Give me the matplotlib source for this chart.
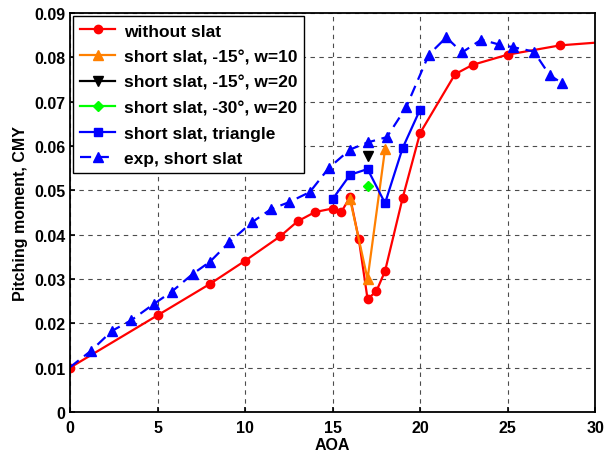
import matplotlib
matplotlib.use('Agg')
import matplotlib.pyplot as plt

plt.rcParams['font.family'] = ['Liberation Sans', 'DejaVu Sans']
plt.rcParams['font.weight'] = 'bold'

# without slat
aoa_noslat = [0, 5, 8, 10, 12, 13, 14, 15, 15.5, 16, 16.5, 17, 17.5, 18, 19, 20, 22, 23, 25, 28, 30]
cmy_noslat = [0.0100, 0.0218, 0.0289, 0.0341, 0.0396, 0.0430, 0.0451, 0.0459, 0.0451, 0.0485,
              0.0390, 0.0255, 0.0272, 0.0318, 0.0482, 0.0629, 0.0762, 0.0783, 0.0806, 0.0827, 0.0833]

# short slat, -15 deg, w=10
aoa_s15w10 = [16, 17, 18]
cmy_s15w10 = [0.0480, 0.0300, 0.0593]

# short slat, -15 deg, w=20
aoa_s15w20 = [17]
cmy_s15w20 = [0.0578]

# short slat, -30 deg, w=20
aoa_s30w20 = [17]
cmy_s30w20 = [0.0510]

# short slat, triangle
aoa_tri = [15, 16, 17, 18, 19, 20]
cmy_tri = [0.0480, 0.0535, 0.0548, 0.0471, 0.0595, 0.0682]

# experiment
aoa_exp = [0, 1.2, 2.4, 3.5, 4.8, 5.8, 7.0, 8.0, 9.1, 10.4, 11.5, 12.5, 13.7, 14.8,
           16.0, 17.0, 18.1, 19.2, 20.5, 21.5, 22.4, 23.5, 24.5, 25.3, 26.5, 27.4, 28.1]
cmy_exp = [0.0101, 0.0138, 0.0183, 0.0207, 0.0244, 0.0271, 0.0311, 0.0339, 0.0383, 0.0428,
           0.0458, 0.0473, 0.0496, 0.0551, 0.0592, 0.0608, 0.0620, 0.0687, 0.0806, 0.0845,
           0.0811, 0.0840, 0.0829, 0.0823, 0.0813, 0.0760, 0.0742]

fig = plt.figure(figsize=(6.06, 4.56), dpi=100)
ax = fig.add_axes([0.1155, 0.0943, 0.8665, 0.875])

lw = 1.6
ax.plot(aoa_noslat, cmy_noslat, '-o', color='red', lw=lw, ms=6,
        markevery=list(range(len(aoa_noslat) - 1)), label='without slat')
ax.plot(aoa_s15w10, cmy_s15w10, '-^', color='#ff8000', lw=lw, ms=7,
        label='short slat, -15°, w=10')
ax.plot(aoa_s15w20, cmy_s15w20, '-v', color='black', lw=lw, ms=7,
        label='short slat, -15°, w=20')
ax.plot(aoa_s30w20, cmy_s30w20, '-D', color='#00ff00', lw=lw, ms=5,
        label='short slat, -30°, w=20')
ax.plot(aoa_tri, cmy_tri, '-s', color='blue', lw=lw, ms=6,
        label='short slat, triangle')
ax.plot(aoa_exp, cmy_exp, '--^', color='blue', lw=lw, ms=7, dashes=(5, 3),
        markevery=list(range(1, len(aoa_exp))), label='exp, short slat')

ax.set_xlim(0, 30)
ax.set_ylim(0, 0.09)
ax.set_xticks(range(0, 31, 5))
ax.set_yticks([i / 100 for i in range(10)])
ax.set_yticklabels(['0'] + ['%.2f' % (i / 100) for i in range(1, 10)])
ax.tick_params(direction='in', labelsize=11.5, width=1.2)
ax.tick_params(axis='x', pad=6)
ax.grid(True, color='black', linestyle=(0, (4, 4)), lw=0.8, alpha=0.7)
for s in ax.spines.values():
    s.set_linewidth(1.3)

ax.set_xlabel('AOA', fontsize=11.5, fontweight='bold', labelpad=1)
ax.set_ylabel('Pitching moment, CMY', fontsize=11.5, fontweight='bold', labelpad=4)

leg = ax.legend(loc='upper left', fontsize=12.5, fancybox=False, framealpha=1,
                edgecolor='black', handlelength=2.0, borderaxespad=0.2,
                labelspacing=0.6, handletextpad=0.5)
leg.get_frame().set_linewidth(1.0)

fig.savefig('out.png', dpi=100)
